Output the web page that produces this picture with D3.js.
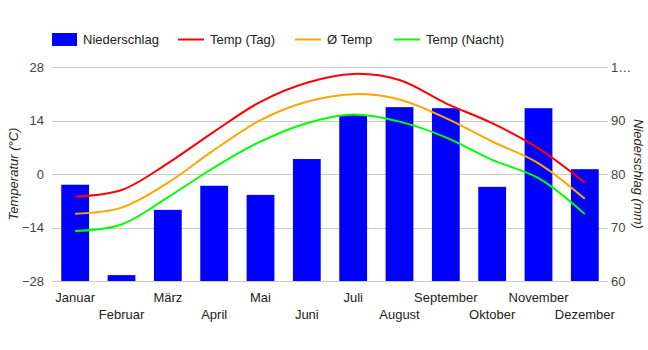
<!DOCTYPE html>
<html>
<head>
<meta charset="utf-8">
<script src="https://cdn.jsdelivr.net/npm/d3@7"></script>
<style>
    body { margin: 0; background: #fff; }
    svg { display: block; font-family: "Liberation Sans", Arial, sans-serif; }
</style>
</head>
<body>
<div id="chart"></div>
<script>
var months = ['Januar', 'Februar', 'März', 'April', 'Mai', 'Juni', 'Juli',
    'August', 'September', 'Oktober', 'November', 'Dezember'];
var niederschlag = [78, 61.1, 73.3, 77.8, 76.1, 82.8, 91, 92.5, 92.3, 77.6, 92.3, 80.9];
var tempTag = [-5.9, -4.2, 2.8, 11.1, 18.9, 23.9, 26.2, 24.6, 18.5, 13.3, 6.7, -2.3];
var tempMittel = [-10.4, -8.8, -2.3, 6.3, 14.1, 18.9, 20.9, 19.5, 14.6, 8.5, 2.8, -6.5];
var tempNacht = [-14.9, -13.2, -6.1, 1.7, 8.5, 13.3, 15.6, 13.7, 9.6, 3.7, -1.1, -10.5];
var tempTicks = [-28, -14, 0, 14, 28];
var precipTicks = [60, 70, 80, 90, 100];
var precipTickLabels = ['60', '70', '80', '90', '1…'];

var width = 648, height = 350;
var plotLeft = 52, plotRight = 608, plotTop = 67, plotBottom = 281;

var svg = d3.select('#chart')
    .append('svg')
    .attr('width', width)
    .attr('height', height);

var x = d3.scaleBand()
    .domain(months)
    .range([plotLeft, plotRight])
    .paddingInner(0.4)
    .paddingOuter(0.2);

var yTemp = d3.scaleLinear().domain([-28, 28]).range([plotBottom, plotTop]);
var yPrecip = d3.scaleLinear().domain([60, 100]).range([plotBottom, plotTop]);

// gridlines
svg.append('g')
    .selectAll('line')
    .data(tempTicks)
    .join('line')
    .attr('x1', plotLeft)
    .attr('x2', plotRight)
    .attr('y1', d => Math.round(yTemp(d)) + 0.5)
    .attr('y2', d => Math.round(yTemp(d)) + 0.5)
    .attr('stroke', '#cccccc');

// left axis
var leftAxis = svg.append('g')
    .attr('transform', `translate(${plotLeft},0)`)
    .call(d3.axisLeft(yTemp).tickValues(tempTicks).tickSize(0).tickPadding(8));
leftAxis.select('.domain').remove();
leftAxis.selectAll('text')
    .attr('font-size', 13)
    .attr('fill', '#444')
    .attr('font-family', '"Liberation Sans", Arial, sans-serif');

// right axis
var rightAxis = svg.append('g')
    .attr('transform', `translate(${plotRight},0)`)
    .call(d3.axisRight(yPrecip).tickValues(precipTicks).tickSize(0).tickPadding(3)
        .tickFormat((d, i) => precipTickLabels[i]));
rightAxis.select('.domain').remove();
rightAxis.selectAll('text')
    .attr('font-size', 13)
    .attr('fill', '#444')
    .attr('font-family', '"Liberation Sans", Arial, sans-serif');

// bars
svg.append('g')
    .selectAll('rect')
    .data(niederschlag)
    .join('rect')
    .attr('x', (d, i) => x(months[i]))
    .attr('y', d => yPrecip(d))
    .attr('width', x.bandwidth())
    .attr('height', d => yPrecip(60) - yPrecip(d))
    .attr('fill', '#0000ff');

// temperature lines
var line = d3.line()
    .x((d, i) => x(months[i]) + x.bandwidth() / 2)
    .y(d => yTemp(d))
    .curve(d3.curveCatmullRom.alpha(0.5));

var series = [
    { values: tempTag, color: '#ff0000' },
    { values: tempMittel, color: '#ffa500' },
    { values: tempNacht, color: '#00ff00' }
];

svg.append('g')
    .selectAll('path')
    .data(series)
    .join('path')
    .attr('d', d => line(d.values))
    .attr('fill', 'none')
    .attr('stroke', d => d.color)
    .attr('stroke-width', 2);

// x labels, alternating rows
svg.append('g')
    .selectAll('text')
    .data(months)
    .join('text')
    .attr('x', d => x(d) + x.bandwidth() / 2)
    .attr('y', (d, i) => i % 2 === 0 ? 302 : 319)
    .attr('text-anchor', 'middle')
    .attr('font-size', 13)
    .attr('fill', '#222')
    .text(d => d);

// axis titles
svg.append('text')
    .attr('transform', `translate(18,${(plotTop + plotBottom) / 2}) rotate(-90)`)
    .attr('text-anchor', 'middle')
    .attr('font-size', 13)
    .attr('font-style', 'italic')
    .attr('fill', '#222')
    .text('Temperatur (°C)');

svg.append('text')
    .attr('transform', `translate(634,${(plotTop + plotBottom) / 2}) rotate(90)`)
    .attr('text-anchor', 'middle')
    .attr('font-size', 13)
    .attr('font-style', 'italic')
    .attr('fill', '#222')
    .text('Niederschlag (mm)');

// legend
var legend = svg.append('g');
legend.append('rect')
    .attr('x', 52).attr('y', 33)
    .attr('width', 25).attr('height', 13)
    .attr('fill', '#0000ff');
legend.append('text')
    .attr('x', 83).attr('y', 44)
    .attr('font-size', 13).attr('fill', '#222')
    .text('Niederschlag');

var legendLines = [
    { label: 'Temp (Tag)', color: '#ff0000', x: 178 },
    { label: 'Ø Temp', color: '#ffa500', x: 295 },
    { label: 'Temp (Nacht)', color: '#00ff00', x: 394 }
];
legendLines.forEach(function (d) {
    legend.append('line')
        .attr('x1', d.x).attr('x2', d.x + 26)
        .attr('y1', 39.5).attr('y2', 39.5)
        .attr('stroke', d.color)
        .attr('stroke-width', 2);
    legend.append('text')
        .attr('x', d.x + 32).attr('y', 44)
        .attr('font-size', 13).attr('fill', '#222')
        .text(d.label);
});
</script>
</body>
</html>
